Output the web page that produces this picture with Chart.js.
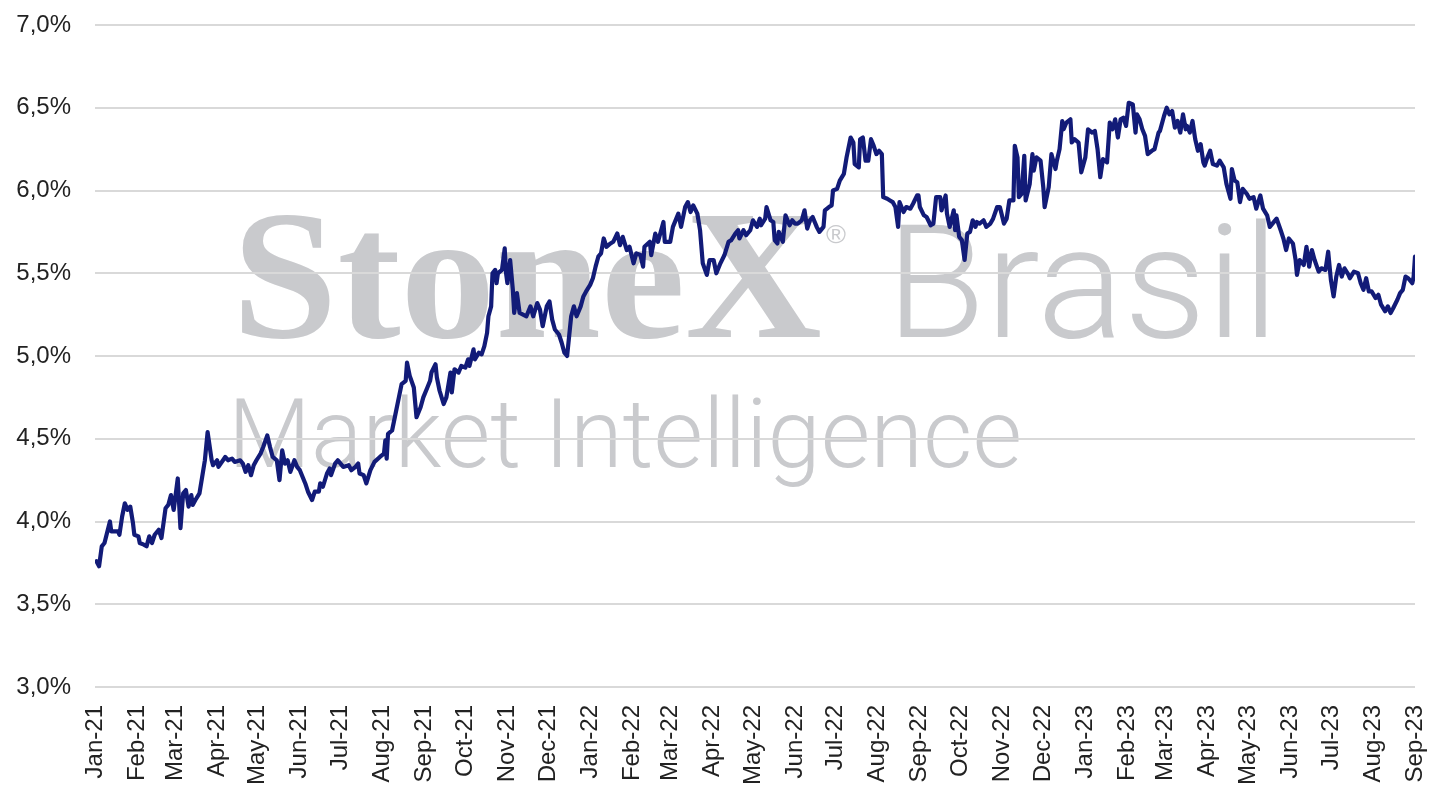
<!DOCTYPE html>
<html><head><meta charset="utf-8">
<style>html,body{margin:0;padding:0;background:#fff;}#wrap{width:1438px;height:807px;position:relative;}</style>
<script src="https://cdn.jsdelivr.net/npm/chart.js@4.4.1/dist/chart.umd.min.js"></script>
</head><body><div id="wrap"><canvas id="c"></canvas></div>
<script>
// Month tick labels (x axis, one per month start from Jan-21 to Sep-23)
const monthLabels = ['Jan-21','Feb-21','Mar-21','Apr-21','May-21','Jun-21','Jul-21','Aug-21','Sep-21','Oct-21','Nov-21','Dec-21',
  'Jan-22','Feb-22','Mar-22','Apr-22','May-22','Jun-22','Jul-22','Aug-22','Sep-22','Oct-22','Nov-22','Dec-22',
  'Jan-23','Feb-23','Mar-23','Apr-23','May-23','Jun-23','Jul-23','Aug-23','Sep-23'];
// Y axis ticks (%)
const yMin = 3.0, yMax = 7.0, yStep = 0.5;
// Series: [days since 2021-01-01, rate %]
const series2021 = [
[1,3.76],[3,3.73],[5,3.85],[7,3.87],[11,4.00],[12,3.94],[17,3.94],[18,3.92],[20,4.03],[22,4.11],
[24,4.07],[26,4.09],[28,3.99],[29,3.92],[32,3.91],[33,3.87],[36,3.86],[38,3.85],[40,3.91],[42,3.87],
[44,3.92],[47,3.95],[49,3.90],[52,4.08],[54,4.10],[56,4.16],[58,4.07],[61,4.26],[63,3.96],[65,4.17],
[67,4.19],[69,4.09],[71,4.16],[72,4.10],[74,4.13],[77,4.17],[79,4.27],[81,4.37],[83,4.54],[86,4.37],
[87,4.34],[90,4.37],[91,4.33],[96,4.39],[98,4.37],[101,4.38],[103,4.36],[107,4.37],[109,4.35],[111,4.30],
[113,4.34],[115,4.28],[117,4.34],[119,4.37],[122,4.41],[124,4.45],[127,4.52],[129,4.45],[131,4.39],[134,4.37],
[136,4.25],[138,4.43],[140,4.35],[142,4.37],[144,4.30],[147,4.37],[149,4.33],[151,4.31],[155,4.23],[157,4.18],
[160,4.13],[162,4.18],[165,4.18],[166,4.23],[168,4.21],[171,4.29],[173,4.32],[174,4.28],[177,4.35],[179,4.37],
[181,4.35],[183,4.33],[187,4.34],[189,4.31],[192,4.33],[194,4.35],[195,4.29],[198,4.28],[200,4.23],[203,4.31],
[206,4.36],[210,4.39],[213,4.41],[214,4.49],[215,4.38],[216,4.53],[219,4.55],[221,4.63],[224,4.75],[226,4.83],
[229,4.85],[230,4.96],[232,4.88],[235,4.81],[237,4.63],[240,4.69],[242,4.75],[245,4.81],[247,4.85],[248,4.90],
[251,4.95],[252,4.87],[254,4.79],[257,4.71],[259,4.75],[262,4.90],[263,4.78],[265,4.92],[268,4.90],[270,4.94],
[273,4.93],[275,4.98],[276,4.94],[279,5.04],[280,4.98],[283,5.02],[285,5.01],[287,5.06],[289,5.14],[290,5.24],
[292,5.30],[293,5.50],[295,5.52],[296,5.44],[297,5.50],[300,5.52],[302,5.65],[303,5.50],[304,5.44],[306,5.58],
[308,5.40],[309,5.26],[311,5.38],[313,5.26],[318,5.24],[321,5.30],[323,5.24],[326,5.32],[328,5.28],[330,5.18],
[333,5.30],[335,5.33],[337,5.22],[339,5.16],[342,5.13],[344,5.08],[346,5.02],[348,5.00],[350,5.16],[351,5.24],
[353,5.30],[355,5.24],[358,5.30],[360,5.36],[362,5.39]];
const series2022 = [
[365,5.43],[367,5.47],[369,5.54],[371,5.60],[373,5.62],[375,5.71],[377,5.66],[380,5.68],[382,5.69],[385,5.74],
[387,5.67],[389,5.72],[392,5.64],[394,5.66],[397,5.56],[399,5.62],[402,5.61],[404,5.54],[405,5.66],[409,5.69],
[410,5.61],[413,5.74],[415,5.69],[419,5.81],[420,5.69],[424,5.69],[426,5.78],[430,5.86],[432,5.78],[435,5.90],
[437,5.93],[439,5.87],[441,5.91],[444,5.86],[446,5.76],[448,5.56],[451,5.49],[453,5.58],[456,5.58],[458,5.50],
[461,5.56],[464,5.61],[467,5.69],[469,5.70],[472,5.74],[474,5.76],[475,5.71],[478,5.76],[480,5.73],[483,5.76],
[485,5.82],[488,5.78],[490,5.83],[491,5.79],[494,5.83],[495,5.90],[498,5.82],[500,5.81],[501,5.70],[503,5.68],
[504,5.75],[506,5.71],[507,5.69],[509,5.85],[512,5.79],[514,5.82],[516,5.80],[518,5.80],[521,5.82],[523,5.88],
[525,5.77],[527,5.82],[529,5.84],[532,5.78],[534,5.75],[537,5.78],[538,5.88],[541,5.90],[543,5.91],[544,6.00],
[547,6.01],[549,6.06],[552,6.10],[554,6.20],[557,6.32],[559,6.29],[560,6.16],[563,6.14],[564,6.31],[566,6.32],
[568,6.18],[570,6.18],[572,6.31],[574,6.27],[576,6.22],[578,6.24],[580,6.22],[581,5.96],[584,5.95],[586,5.94],
[588,5.93],[590,5.90],[592,5.78],[593,5.93],[596,5.87],[598,5.90],[601,5.89],[603,5.92],[606,5.97],[607,5.97],
[608,5.90],[611,5.85],[613,5.84],[616,5.79],[618,5.80],[620,5.96],[623,5.96],[624,5.88],[627,5.97],[628,5.86],
[630,5.78],[633,5.88],[634,5.76],[635,5.85],[637,5.72],[639,5.70],[641,5.58],[643,5.74],[645,5.75],[647,5.82],
[649,5.78],[650,5.81],[652,5.80],[655,5.82],[657,5.78],[660,5.80],[662,5.83],[665,5.90],[667,5.90],[670,5.80],
[672,5.83],[674,5.94],[677,5.94],[678,6.27],[680,6.20],[681,5.96],[683,5.98],[685,6.21],[686,5.94],[689,6.04],
[691,6.22],[692,6.12],[694,6.20],[697,6.18],[699,6.02],[700,5.90],[703,6.02],[705,6.22],[708,6.13],[709,6.18],
[711,6.25],[713,6.42],[714,6.37],[716,6.41],[719,6.43],[720,6.29],[722,6.31],[725,6.29],[727,6.11]];
const series2023 = [
[730,6.20],[732,6.37],[735,6.35],[737,6.36],[739,6.25],[741,6.08],[743,6.19],[746,6.17],[748,6.41],[750,6.37],
[752,6.43],[754,6.32],[756,6.43],[758,6.44],[760,6.39],[762,6.53],[765,6.52],[767,6.35],[768,6.46],[770,6.43],
[772,6.37],[774,6.33],[776,6.22],[779,6.24],[781,6.25],[784,6.35],[785,6.36],[788,6.45],[790,6.50],[792,6.46],
[794,6.48],[796,6.38],[798,6.42],[800,6.35],[802,6.46],[804,6.37],[805,6.39],[807,6.35],[809,6.42],[811,6.31],
[813,6.24],[815,6.28],[817,6.17],[818,6.15],[820,6.20],[822,6.24],[824,6.16],[827,6.15],[829,6.18],[832,6.14],
[834,6.04],[837,5.95],[838,6.13],[840,6.06],[842,6.05],[844,5.93],[846,6.01],[849,5.98],[851,5.95],[854,5.96],
[856,5.89],[859,5.97],[861,5.89],[864,5.85],[866,5.78],[869,5.81],[871,5.83],[874,5.76],[876,5.71],[878,5.64],
[880,5.71],[883,5.68],[885,5.58],[886,5.49],[888,5.58],[891,5.55],[893,5.66],[895,5.54],[897,5.64],[899,5.58],
[902,5.51],[904,5.53],[907,5.52],[909,5.63],[911,5.46],[913,5.36],[915,5.48],[917,5.55],[919,5.48],[921,5.53],
[924,5.49],[925,5.47],[928,5.51],[931,5.50],[933,5.44],[935,5.40],[937,5.47],[939,5.39],[941,5.39],[944,5.35],
[946,5.37],[948,5.31],[951,5.27],[953,5.30],[955,5.26],[957,5.29],[960,5.34],[962,5.38],[964,5.40],[966,5.48],
[968,5.47],[971,5.44],[972,5.48],[973,5.60]];

// ---- build from the arrays ----
const DAY = 86400000, T0 = Date.UTC(2021, 0, 1);
const monthStarts = monthLabels.map((_, i) => Math.round((Date.UTC(2021, i, 1) - T0) / DAY));
const points = series2021.concat(series2022, series2023).map(p => ({x: p[0], y: p[1]}));

const watermark = {
  id: 'watermark',
  beforeDraw(chart) {
    const ctx = chart.ctx;
    ctx.save();
    ctx.fillStyle = '#ffffff';
    ctx.fillRect(0, 0, chart.width, chart.height);
    ctx.fillStyle = '#c9cacd';
    ctx.textBaseline = 'alphabetic';
    ctx.textAlign = 'left';
    const fit = (text, font, x, base, w) => {
      ctx.font = font;
      const m = ctx.measureText(text).width;
      ctx.save(); ctx.translate(x, base); ctx.scale(w / m, 1); ctx.fillText(text, 0, 0); ctx.restore();
    };
    fit('StoneX', 'bold 184px "Liberation Serif"', 232, 337, 590);
    fit('®', '26px "Liberation Sans"', 826, 243, 20);
    fit('Brasil', '300 157px Roboto', 886, 337, 393);
    fit('Market Intelligence', '300 96px Roboto', 228, 467, 794);
    ctx.restore();
  }
};

new Chart(document.getElementById('c'), {
  type: 'line',
  data: { datasets: [{
    data: points, borderColor: '#121b78', borderWidth: 4.2, pointRadius: 0,
    tension: 0, fill: false, borderJoinStyle: 'round', borderCapStyle: 'round'
  }]},
  options: {
    responsive: true, maintainAspectRatio: false, animation: false, devicePixelRatio: 1,
    layout: { padding: { left: 0, right: 23, top: 25, bottom: 0 } },
    plugins: { legend: { display: false }, tooltip: { enabled: false } },
    scales: {
      x: {
        type: 'linear', min: monthStarts[0], max: monthStarts[monthStarts.length - 1],
        grid: { display: false }, border: { display: false },
        afterBuildTicks: s => { s.ticks = monthStarts.map(v => ({ value: v })); },
        afterFit: s => { s.height = 120; s.paddingLeft = 0; s.paddingRight = 0; s.paddingTop = 0; s.paddingBottom = 0; },
        ticks: {
          autoSkip: false, maxRotation: 90, minRotation: 90, padding: 10,
          color: '#222', font: { family: '"Liberation Sans", Arial, sans-serif', size: 24 },
          callback: v => { const i = monthStarts.indexOf(v); return i >= 0 ? monthLabels[i] : ''; }
        }
      },
      y: {
        min: yMin, max: yMax,
        grid: { color: '#d9d9d9', lineWidth: 2, drawTicks: false }, border: { display: false },
        afterFit: s => { s.width = 95; s.paddingLeft = 0; s.paddingRight = 0; s.paddingTop = 0; s.paddingBottom = 0; },
        ticks: {
          stepSize: yStep, padding: 24, color: '#222',
          font: { family: '"Liberation Sans", Arial, sans-serif', size: 24 },
          callback: v => v.toFixed(1).replace('.', ',') + '%'
        }
      }
    }
  },
  plugins: [watermark]
});
</script>
</body></html>
